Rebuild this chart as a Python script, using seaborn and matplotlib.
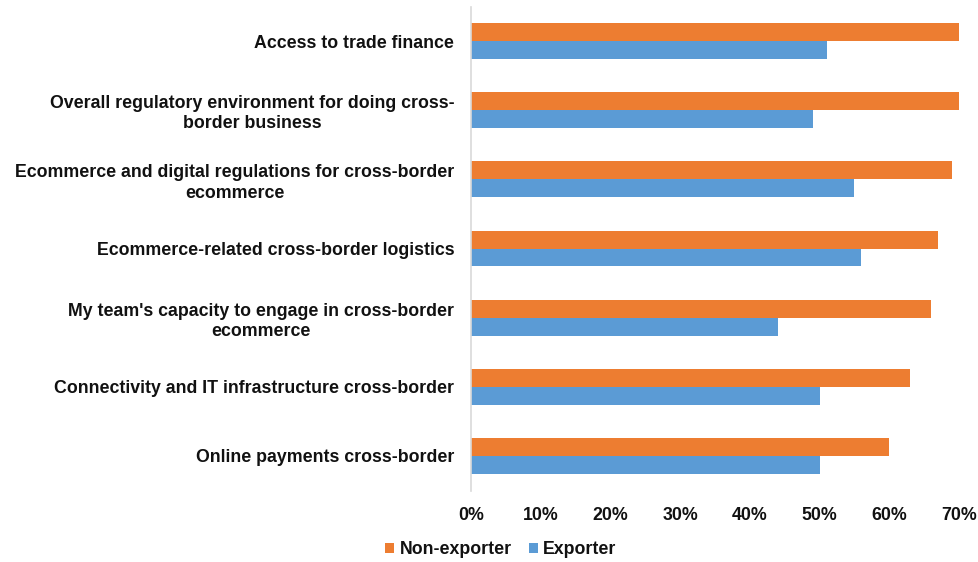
import matplotlib
matplotlib.use("Agg")
import matplotlib.pyplot as plt
import seaborn as sns
import pandas as pd

categories = [
    "Access to trade finance",
    "Overall regulatory environment for doing cross-\nborder business",
    "Ecommerce and digital regulations for cross-border\necommerce",
    "Ecommerce-related cross-border logistics",
    "My team's capacity to engage in cross-border\necommerce",
    "Connectivity and IT infrastructure cross-border",
    "Online payments cross-border",
]
non_exporter = [70, 70, 69, 67, 66, 63, 60]
exporter = [51, 49, 55, 56, 44, 50, 50]
series_names = ["Non-exporter", "Exporter"]
tick_values = [0, 10, 20, 30, 40, 50, 60, 70]
tick_labels = ["0%", "10%", "20%", "30%", "40%", "50%", "60%", "70%"]

df = pd.DataFrame({
    "category": categories * 2,
    "value": non_exporter + exporter,
    "series": [series_names[0]] * len(categories) + [series_names[1]] * len(categories),
})

sns.set_theme(style="white")
plt.rcParams["font.family"] = ["Liberation Sans", "DejaVu Sans"]

FS = 12.8

fig = plt.figure(figsize=(9.79, 5.62), dpi=100)
ax = fig.add_axes([471 / 979, 1 - 490.5 / 562, (959 - 471) / 979, 484 / 562])

palette = {"Non-exporter": "#ED7D31", "Exporter": "#5B9BD5"}
sns.barplot(data=df, y="category", x="value", hue="series", order=categories,
            hue_order=series_names, palette=palette, width=0.52, orient="h",
            ax=ax, saturation=1, legend=True, linewidth=0)

ax.set_xlim(0, 70)
ax.set_ylim(len(categories) - 0.5, -0.5)
ax.set_xticks(tick_values)
ax.set_xticklabels(tick_labels, fontsize=FS, fontweight="bold", color="#111111")
ax.tick_params(axis="x", pad=12, length=0)
ax.tick_params(axis="y", pad=12, length=0)
for lbl in ax.get_yticklabels():
    lbl.set_fontsize(FS)
    lbl.set_fontweight("bold")
    lbl.set_color("#111111")
    lbl.set_multialignment("center")
    lbl.set_linespacing(1.25)
ax.set_xlabel("")
ax.set_ylabel("")
for s in ["top", "right", "bottom"]:
    ax.spines[s].set_visible(False)
ax.spines["left"].set_color("#d9d9d9")
ax.spines["left"].set_linewidth(1.2)

ax.legend_.remove()
handles, labels = ax.get_legend_handles_labels()
leg = fig.legend(handles, labels, loc="center left", bbox_to_anchor=(373 / 979, 1 - 550 / 562),
                 ncol=2, frameon=False, prop={"size": FS, "weight": "bold"},
                 handlelength=0.5, handleheight=0.5, handletextpad=0.3, columnspacing=0.95,
                 borderpad=0.2)
for t in leg.get_texts():
    t.set_color("#111111")

fig.savefig("out.png", dpi=100)
